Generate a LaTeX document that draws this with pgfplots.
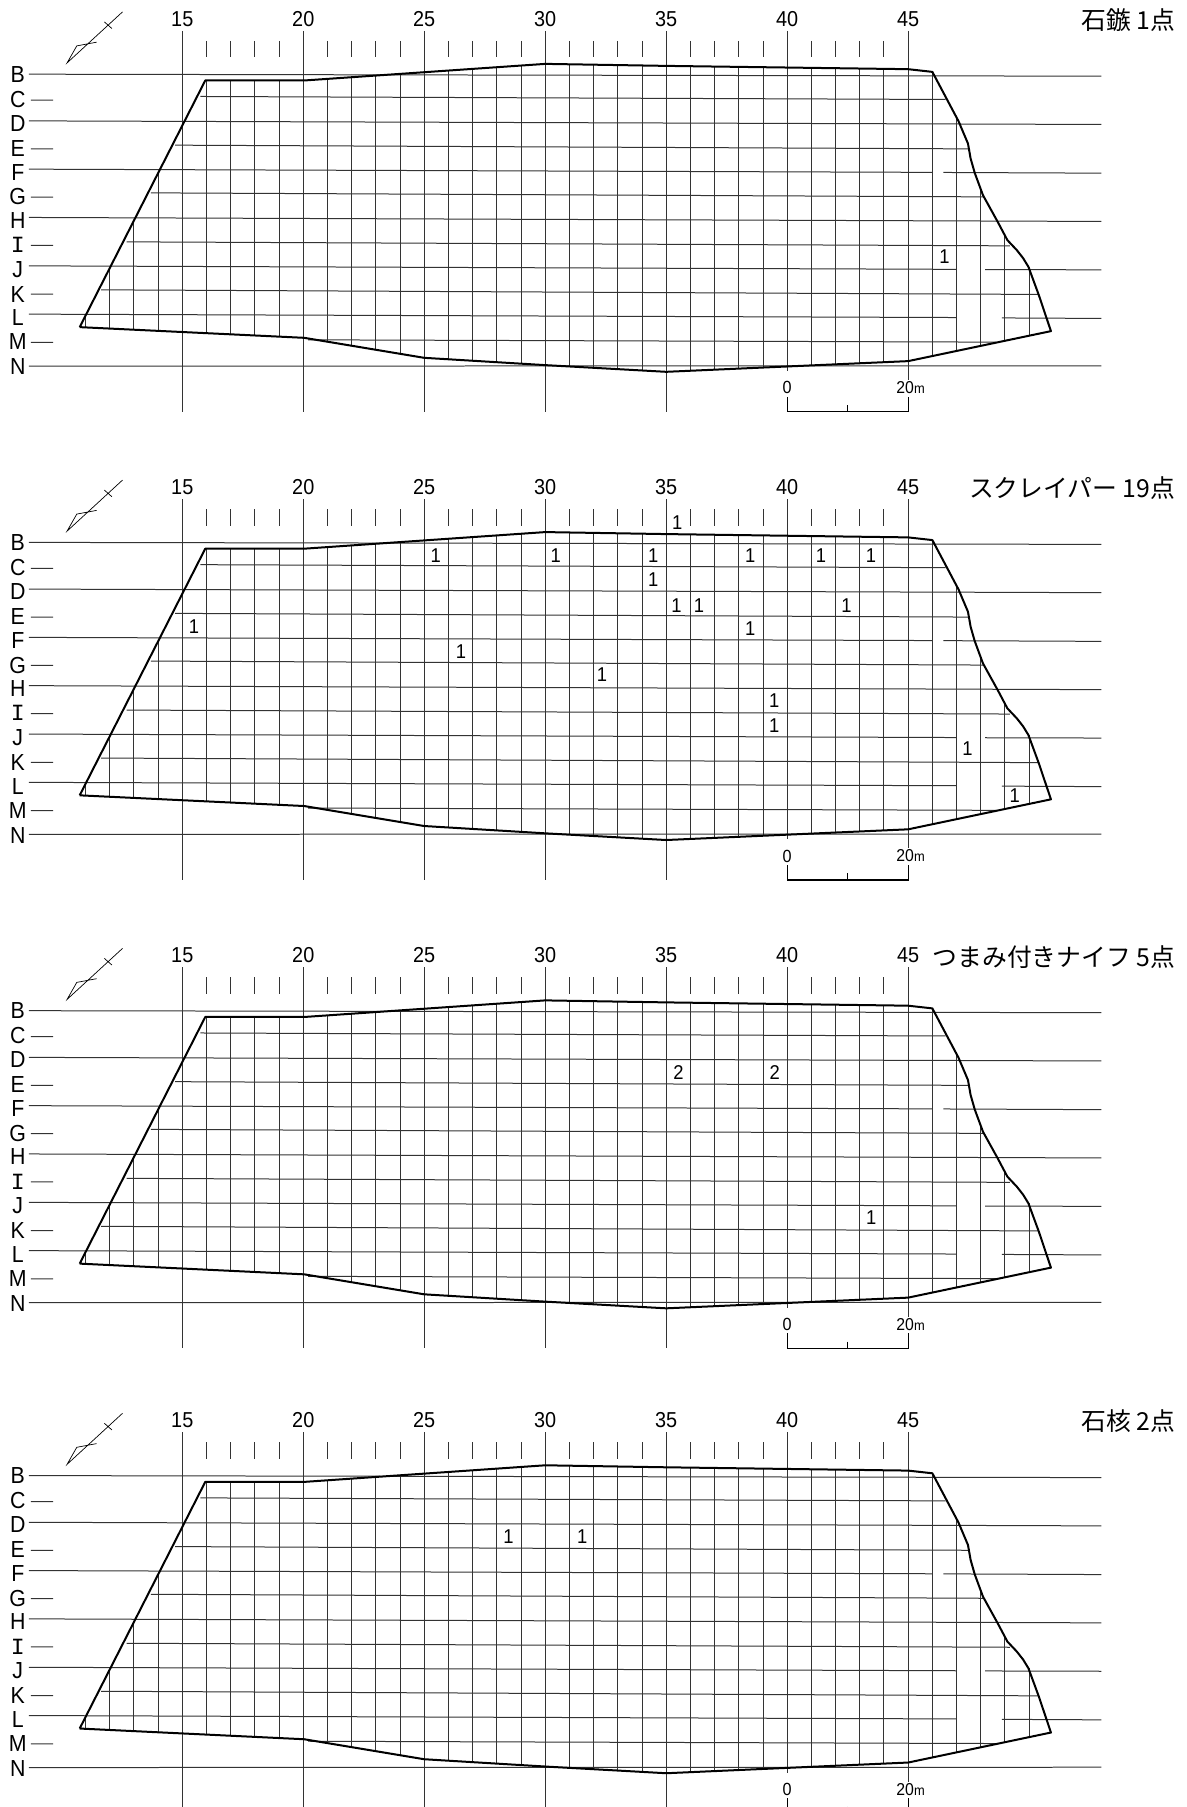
\documentclass[border=0pt]{standalone}
\usepackage{fontspec}
\setmainfont{Liberation Sans}[FakeStretch=0.92]
\newfontfamily\jp{Noto Sans CJK JP}
\newfontfamily\seriffedI{Liberation Mono}
\usepackage{pgfplots}
\usepackage{pgfplotstable}
\pgfplotsset{compat=1.18}

% x = grid number, y = pixels below the top of the panel (1 px = 0.5 pt)
\pgfplotstableread{
x y
10.76 327
15.95 80.3
20.04 80.3
30 63.7
35 65.7
45 69
46 71.7
47.08 121
47.47 143.3
47.52 150
47.58 158.3
47.75 172.7
48.09 195
48.7 221.7
49.1 240
49.49 250
49.75 258
49.97 266.7
50.4 295
50.9 331
45 361
35 371.7
30 365
25 357.7
20.04 337.7
10.76 327
}\outline

\pgfplotstableread{
x y
15 30.7
15 411.7
nan nan
20 30.7
20 411.7
nan nan
25 30.7
25 411.7
nan nan
30 30.7
30 411.7
nan nan
35 30.7
35 411.7
nan nan
40 30.7
40 371
nan nan
45 30.7
45 380
nan nan
11 315.6
11 327.3
nan nan
12 268
12 328.4
nan nan
13 220.6
13 329.6
nan nan
14 173
14 330.7
nan nan
16 80.3
16 333
nan nan
17 80.3
17 334.2
nan nan
18 80.3
18 335.3
nan nan
19 80.3
19 336.5
nan nan
21 78.6
21 342
nan nan
22 77
22 346
nan nan
23 75.3
23 350
nan nan
24 73.7
24 354
nan nan
26 70.3
26 359.2
nan nan
27 68.7
27 360.6
nan nan
28 67
28 362
nan nan
29 65.4
29 363.5
nan nan
31 64.1
31 366.3
nan nan
32 64.5
32 367.7
nan nan
33 64.9
33 369
nan nan
34 65.3
34 370.4
nan nan
36 66
36 370.6
nan nan
37 66.4
37 369.6
nan nan
38 66.7
38 368.5
nan nan
39 67
39 367.4
nan nan
41 67.7
41 365.3
nan nan
42 68
42 364.2
nan nan
43 68.4
43 363.2
nan nan
44 68.7
44 362.1
nan nan
46 71.7
46 356
nan nan
47 118
47 350.8
nan nan
48 187
48 345.7
nan nan
49 236
49 340.6
nan nan
50 266.7
50 335.6
}\verticals

\pgfplotstableread{
x y
16 40.7
16 57.3
nan nan
17 40.7
17 57.3
nan nan
18 40.7
18 57.3
nan nan
19 40.7
19 57.3
nan nan
21 40.7
21 57.3
nan nan
22 40.7
22 57.3
nan nan
23 40.7
23 57.3
nan nan
24 40.7
24 57.3
nan nan
26 40.7
26 57.3
nan nan
27 40.7
27 57.3
nan nan
28 40.7
28 57.3
nan nan
29 40.7
29 57.3
nan nan
31 40.7
31 57.3
nan nan
32 40.7
32 57.3
nan nan
33 40.7
33 57.3
nan nan
34 40.7
34 57.3
nan nan
36 40.7
36 57.3
nan nan
37 40.7
37 57.3
nan nan
38 40.7
38 57.3
nan nan
39 40.7
39 57.3
nan nan
41 40.7
41 57.3
nan nan
42 40.7
42 57.3
nan nan
43 40.7
43 57.3
nan nan
44 40.7
44 57.3
}\topticks

% rows B to N, with the breaks at the right edge and the short stubs at the left
\pgfplotstableread{
x y
8.66 74
52.98 76
nan nan
15.75 96.3
46.55 99.3
nan nan
8.66 120.7
52.98 124.3
nan nan
14.7 145
47.47 148.7
nan nan
8.66 169
46 172.2
nan nan
46.45 172.3
52.98 173
nan nan
13.7 192.7
48.09 196.7
nan nan
8.66 217.3
52.98 221.3
nan nan
12.7 241.7
49.2 245.7
nan nan
8.66 265.7
47 269.2
nan nan
48.18 269.4
52.98 269.7
nan nan
11.65 289.7
50.4 294.3
nan nan
8.66 314
47 317.4
nan nan
48.87 317.8
52.98 318.3
nan nan
20.2 339.7
48.63 342
nan nan
8.66 366
52.98 365.7
nan nan
8.74 100
9.66 100
nan nan
8.74 148.7
9.66 148.7
nan nan
8.74 197
9.66 197
nan nan
8.74 245.3
9.66 245.3
nan nan
8.74 294
9.66 294
nan nan
8.74 342.3
9.66 342.3
}\rows

\pgfplotstableread{
x y
12.53 11.7
10.24 62.7
10.64 45.7
11.46 42
nan nan
11.78 21.7
12.09 28.3
}\compass

\pgfplotstableread{
x y
40 396.7
40 411.7
45 411.7
45 396.7
nan nan
42.5 405
42.5 411.7
}\scalebar

\pgfplotstableread{
x y n
46.5 256.7 1
}\countsA

\pgfplotstableread{
x y n
35.46 54 1
25.48 87.5 1
30.43 87.5 1
34.46 87.5 1
38.47 87.5 1
41.4 87.5 1
43.46 87.5 1
34.46 111 1
35.42 137 1
36.35 137 1
42.45 137 1
15.48 158.7 1
38.47 160.7 1
26.52 182.9 1
32.35 206.5 1
39.46 232 1
39.46 257.4 1
47.45 280 1
49.4 327.3 1
}\countsB

\pgfplotstableread{
x y n
35.51 136 2
39.49 136 2
43.47 280.6 1
}\countsC

\pgfplotstableread{
x y n
28.48 134.6 1
31.53 134.6 1
}\countsD

\definecolor{gridc}{gray}{0.2}

% #1 top in pt, #2 height in pt, #3 ymax, #4 title, #5 counts
\newcommand{\panel}[5]{
\begin{axis}[
    at={(0pt,#1)}, anchor=north west,
    scale only axis, width=593pt, height=#2,
    xmin=7.475, xmax=56.48, ymin=0, ymax=#3,
    y dir=reverse,
    axis line style={draw=none},
    major tick length=0pt,
    unbounded coords=jump,
    xtick={15,20,25,30,35,40,45},
    xticklabels={15,20,25,30,35,40,45},
    xticklabel pos=upper,
    xticklabel style={anchor=center, yshift=-9.4pt, font=\fontsize{10.8}{12}\selectfont, inner sep=0pt},
    ytick={74,99,123.3,148.3,172.3,196.7,220,245,269,294,317.7,341.7,366.7},
    yticklabels={B,C,D,E,F,G,H,{\seriffedI I},J,K,L,M,N},
    yticklabel style={anchor=center, xshift=8.8pt, font=\fontsize{11.6}{13}\selectfont, inner sep=0pt},
    every axis plot/.append style={no markers},
]
\addplot[gridc, line width=0.5pt] table {\rows};
\addplot[gridc, line width=0.5pt] table {\verticals};
\addplot[gridc, line width=0.5pt] table {\topticks};
\addplot[black, line width=1pt, line join=round] table {\outline};
\addplot[black, line width=0.35pt, line join=miter] table {\compass};
\addplot[black, line width=0.6pt] table {\scalebar};
\addplot[only marks, mark=none, point meta=explicit symbolic,
    nodes near coords,
    nodes near coords style={anchor=center, inner sep=0pt, font=\fontsize{10}{11}\selectfont}]
    table[meta=n] {#5};
\node[font=\fontsize{8.8}{10}\selectfont, inner sep=0pt] at (axis cs:40,387.7) {0};
\node[font=\fontsize{8.6}{10}\selectfont, inner sep=0pt] at (axis cs:45.1,387.7) {20{\fontsize{7}{8}\selectfont m}};
\node[font=\fontsize{12.4}{14}\selectfont\jp, anchor=east, inner sep=0pt] at (axis cs:56.05,20) {#4};
\end{axis}
}

\begin{document}
\begin{tikzpicture}
\panel{0pt}{215pt}{430}{石鏃 1点}{\countsA}
\panel{-234.15pt}{215pt}{430}{スクレイパー 19点}{\countsB}
\panel{-468.35pt}{215pt}{430}{つまみ付きナイフ 5点}{\countsC}
\panel{-700.85pt}{202.65pt}{405.3}{石核 2点}{\countsD}
\end{tikzpicture}
\end{document}
